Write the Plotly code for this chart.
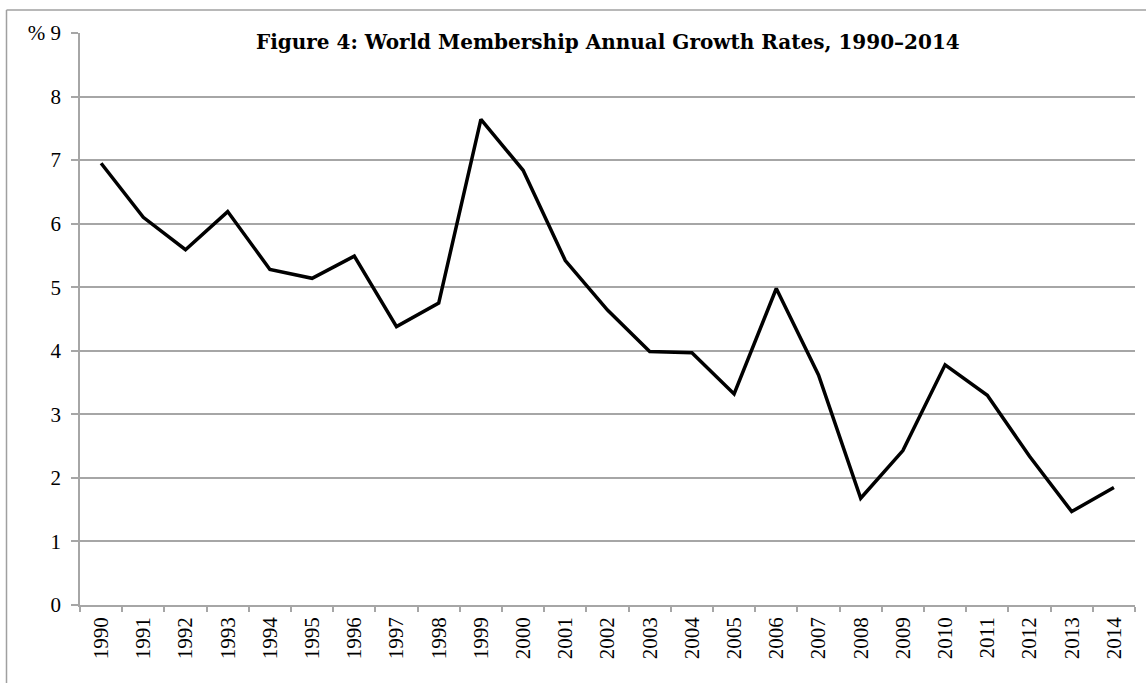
import plotly.graph_objects as go

years = [str(y) for y in range(1990, 2015)]
growth = [6.95, 6.10, 5.59, 6.19, 5.28, 5.14, 5.49, 4.38, 4.75, 7.64,
          6.84, 5.42, 4.64, 3.99, 3.97, 3.32, 4.98, 3.62, 1.68, 2.43,
          3.78, 3.30, 2.34, 1.47, 1.85]
y_ticks = [0, 1, 2, 3, 4, 5, 6, 7, 8, 9]
y_ticktext = ["0", "1", "2", "3", "4", "5", "6", "7", "8", "% 9"]
title = "Figure 4: World Membership Annual Growth Rates, 1990\u20132014"

W, H = 1146, 683
L, R, T, B = 80, 11, 33, 78
pw, ph = W - L - R, H - T - B

fig = go.Figure()
fig.add_trace(go.Scatter(x=years, y=growth, mode="lines",
                         line=dict(color="black", width=3.5), showlegend=False))

grid = "#a6a6a6"
serif = "Liberation Serif, DejaVu Serif, serif"
title_font = "DejaVu Serif, Liberation Serif, serif"

fig.update_layout(
    width=W, height=H,
    margin=dict(l=L, r=R, t=T, b=B),
    paper_bgcolor="white", plot_bgcolor="white",
    font=dict(family=serif, size=21, color="black"),
    xaxis=dict(type="category", tickson="boundaries", ticks="outside", ticklen=5,
               tickcolor=grid, tickwidth=1.5, tickangle=-90,
               showline=True, linecolor=grid, linewidth=1.5,
               showgrid=False, range=[-0.5, 24.5], tickfont=dict(size=21),
               ticklabelstandoff=2),
    yaxis=dict(range=[0, 9], tickvals=y_ticks, ticktext=y_ticktext,
               ticks="outside", ticklen=7, tickcolor=grid, tickwidth=1.5,
               showline=True, linecolor=grid, linewidth=1.5,
               showgrid=True, gridcolor=grid, gridwidth=1.5,
               zeroline=False, tickfont=dict(size=21), ticklabelstandoff=6),
)

# title inside plot
fig.add_annotation(text="<b>" + title + "</b>", xref="paper", yref="paper",
                   x=0.5, y=(605 - 42) / ph, xanchor="center", yanchor="middle",
                   showarrow=False, font=dict(family=title_font, size=20, color="black"))

# outer border (top and left visible)
bx = (6.5 - L) / pw
by = (H - B - 10) / ph
fig.add_shape(type="line", xref="paper", yref="paper", x0=bx, x1=1.02, y0=by, y1=by,
              line=dict(color="#a0a0a0", width=1.5))
fig.add_shape(type="line", xref="paper", yref="paper", x0=bx, x1=bx, y0=by, y1=-0.2,
              line=dict(color="#a0a0a0", width=1.5))

fig.write_html("out.html", config={"displayModeBar": False},
               post_script="document.body.style.margin='0px';document.body.style.overflow='hidden';")
